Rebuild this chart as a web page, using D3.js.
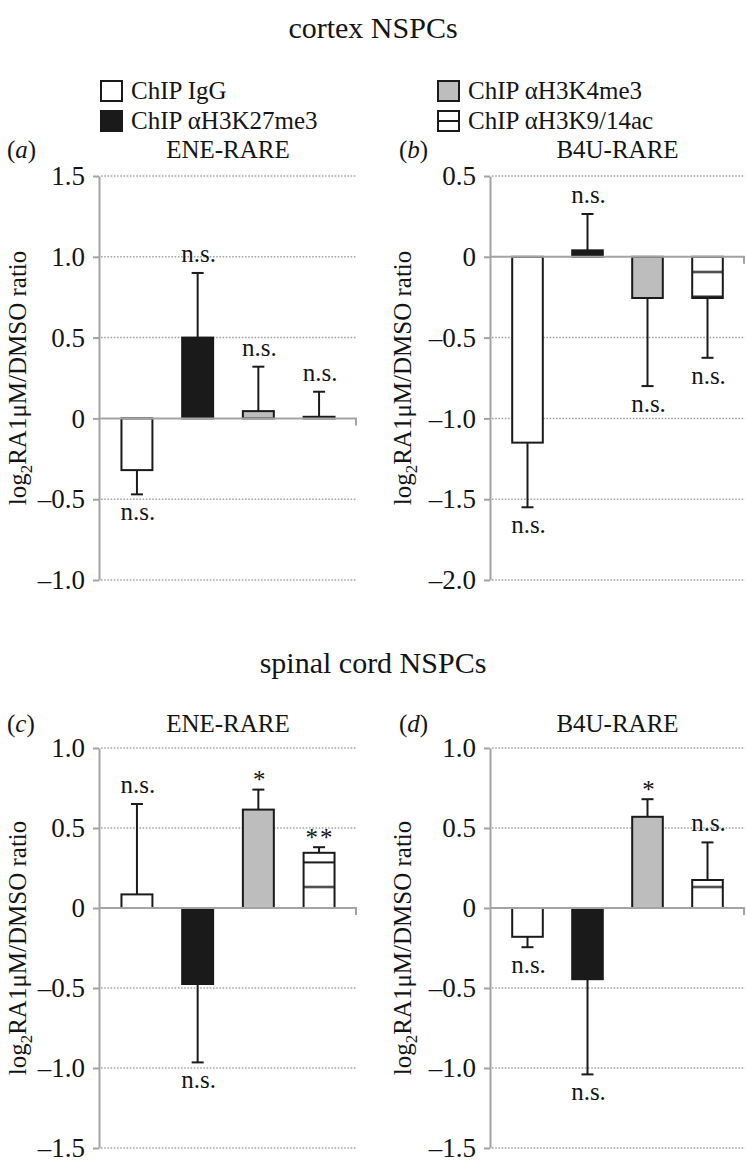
<!DOCTYPE html>
<html>
<head>
<meta charset="utf-8">
<script src="https://cdn.jsdelivr.net/npm/d3@7/dist/d3.min.js"></script>
<style>
  html, body { margin: 0; padding: 0; background: #ffffff; }
  svg { display: block; }
  text { font-family: "Liberation Serif", "Times New Roman", "DejaVu Serif", serif; fill: #141414; }
</style>
</head>
<body>
<script>
// ---------------- data ----------------
const categories = ["ChIP IgG", "ChIP \u03b1H3K27me3", "ChIP \u03b1H3K4me3", "ChIP \u03b1H3K9/14ac"];
const sectionTitles = ["cortex NSPCs", "spinal cord NSPCs"];
const panelLetters = ["a", "b", "c", "d"];
const panelTitles = ["ENE-RARE", "B4U-RARE", "ENE-RARE", "B4U-RARE"];

const valuesA = [-0.32, 0.50, 0.045, 0.01];
const errorsA = [0.15, 0.40, 0.275, 0.155];
const labelsA = ["n.s.", "n.s.", "n.s.", "n.s."];
const ticksA  = [-1.0, -0.5, 0, 0.5, 1.0, 1.5];

const valuesB = [-1.15, 0.04, -0.255, -0.255];
const errorsB = [0.40, 0.225, 0.545, 0.37];
const labelsB = ["n.s.", "n.s.", "n.s.", "n.s."];
const ticksB  = [-2.0, -1.5, -1.0, -0.5, 0, 0.5];

const valuesC = [0.085, -0.475, 0.615, 0.345];
const errorsC = [0.565, 0.49, 0.125, 0.035];
const labelsC = ["n.s.", "n.s.", "*", "**"];
const ticksC  = [-1.5, -1.0, -0.5, 0, 0.5, 1.0];

const valuesD = [-0.18, -0.445, 0.57, 0.175];
const errorsD = [0.065, 0.595, 0.11, 0.235];
const labelsD = ["n.s.", "n.s.", "*", "n.s."];
const ticksD  = [-1.5, -1.0, -0.5, 0, 0.5, 1.0];

const yLabelMain = "RA1\u03bcM/DMSO ratio";

// ---------------- layout / style ----------------
const W = 746, H = 1168;
const ink = "#1a1a1a", axisGray = "#a3a3a3";
const fills = ["#ffffff", "#1a1a1a", "#bdbdbd", "url(#hatch)"];
const panelBoxes = [
  { x0: 99,  x1: 357, y0: 176, y1: 580, titleY: 158, labelX: 26 },
  { x0: 490, x1: 745, y0: 176, y1: 580, titleY: 158, labelX: 411 },
  { x0: 99,  x1: 357, y0: 748, y1: 1148, titleY: 732, labelX: 26 },
  { x0: 490, x1: 745, y0: 748, y1: 1148, titleY: 732, labelX: 411 }
];
const panelData = [
  { values: valuesA, errors: errorsA, labels: labelsA, ticks: ticksA },
  { values: valuesB, errors: errorsB, labels: labelsB, ticks: ticksB },
  { values: valuesC, errors: errorsC, labels: labelsC, ticks: ticksC },
  { values: valuesD, errors: errorsD, labels: labelsD, ticks: ticksD }
];

const svg = d3.select("body").append("svg")
  .attr("width", W).attr("height", H)
  .attr("viewBox", `0 0 ${W} ${H}`);

// hatch pattern (horizontal lines, fixed in page space)
const defs = svg.append("defs");
const pat = defs.append("pattern")
  .attr("id", "hatch")
  .attr("patternUnits", "userSpaceOnUse")
  .attr("width", 20).attr("height", 24.6)
  .attr("y", 0);
pat.append("rect").attr("width", 20).attr("height", 24.6).attr("fill", "#ffffff");
pat.append("rect").attr("x", 0).attr("y", 0.4).attr("width", 20).attr("height", 2).attr("fill", ink);

// section titles
svg.append("text").attr("x", 373).attr("y", 38).attr("text-anchor", "middle")
  .attr("font-size", 30).text(sectionTitles[0]);
svg.append("text").attr("x", 373).attr("y", 673).attr("text-anchor", "middle")
  .attr("font-size", 30).text(sectionTitles[1]);

// legend
const legendPos = [
  { bx: 101, by: 81, tx: 131, ty: 99 },
  { bx: 101, by: 111, tx: 131, ty: 129 },
  { bx: 438, by: 81, tx: 468, ty: 99 },
  { bx: 438, by: 111, tx: 468, ty: 129 }
];
const leg = svg.append("g").attr("class", "legend");
categories.forEach((c, i) => {
  const p = legendPos[i];
  leg.append("rect").attr("x", p.bx).attr("y", p.by).attr("width", 21).attr("height", 20)
    .attr("fill", i === 3 ? "#ffffff" : fills[i]).attr("stroke", ink).attr("stroke-width", 2);
  if (i === 3) {
    leg.append("line").attr("x1", p.bx).attr("x2", p.bx + 21)
      .attr("y1", p.by + 10).attr("y2", p.by + 10).attr("stroke", ink).attr("stroke-width", 2);
  }
  leg.append("text").attr("x", p.tx).attr("y", p.ty).attr("font-size", 25).text(c);
});

const fmt = v => v === 0 ? "0" : (v < 0 ? "\u2013" : "") + Math.abs(v).toFixed(1);

panelData.forEach((pd, k) => {
  const b = panelBoxes[k];
  const g = svg.append("g");
  const y = d3.scaleLinear().domain(d3.extent(pd.ticks)).range([b.y1, b.y0]);
  const x = d3.scaleBand().domain(d3.range(categories.length))
    .range([b.x0, b.x1]).paddingInner(0.49).paddingOuter(0.37);

  // panel letter and title
  const lt = g.append("text").attr("x", b.x0 - 92 + (k % 2 ? 1 : 0)).attr("y", b.titleY).attr("font-size", 25);
  lt.append("tspan").text("(");
  lt.append("tspan").attr("font-style", "italic").text(panelLetters[k]);
  lt.append("tspan").text(")");
  g.append("text").attr("x", (b.x0 + b.x1) / 2).attr("y", b.titleY)
    .attr("text-anchor", "middle").attr("font-size", 25).text(panelTitles[k]);

  // gridlines (dotted), except zero
  g.append("g").selectAll("line").data(pd.ticks.filter(t => t !== 0)).join("line")
    .attr("x1", b.x0 + 2).attr("x2", b.x1)
    .attr("y1", d => y(d)).attr("y2", d => y(d))
    .attr("stroke", axisGray).attr("stroke-width", 1.5).attr("stroke-dasharray", "1.6,1.6");

  // y axis
  const ax = g.append("g").attr("transform", `translate(${b.x0},0)`)
    .call(d3.axisLeft(y).tickValues(pd.ticks).tickFormat(fmt).tickSize(6).tickSizeOuter(0).tickPadding(8));
  ax.select(".domain").attr("stroke", axisGray).attr("stroke-width", 2);
  ax.selectAll(".tick line").attr("stroke", axisGray).attr("stroke-width", 2);
  ax.selectAll(".tick text").attr("font-size", 27)
    .attr("font-family", "'Liberation Serif', 'Times New Roman', serif").attr("fill", "#141414");

  // y label
  const yl = g.append("text")
    .attr("transform", `translate(${b.labelX},${(b.y0 + b.y1) / 2}) rotate(-90)`)
    .attr("text-anchor", "middle").attr("font-size", 25);
  yl.append("tspan").text("log");
  yl.append("tspan").attr("font-size", 17).attr("dy", 6).text("2");
  yl.append("tspan").attr("dy", -6).text(yLabelMain);

  // bars
  const bars = pd.values.map((v, i) => ({ v, e: pd.errors[i], lab: pd.labels[i], i }));
  g.append("g").selectAll("rect").data(bars).join("rect")
    .attr("x", d => x(d.i)).attr("width", x.bandwidth())
    .attr("y", d => y(Math.max(0, d.v)))
    .attr("height", d => Math.abs(y(d.v) - y(0)))
    .attr("fill", d => fills[d.i]).attr("stroke", ink).attr("stroke-width", 2);

  // zero axis line with end tick
  g.append("line").attr("x1", b.x0).attr("x2", b.x1).attr("y1", y(0)).attr("y2", y(0))
    .attr("stroke", axisGray).attr("stroke-width", 2);
  g.append("line").attr("x1", b.x1 - 1).attr("x2", b.x1 - 1).attr("y1", y(0)).attr("y2", y(0) + 7)
    .attr("stroke", axisGray).attr("stroke-width", 2);

  // error bars
  const eg = g.append("g").attr("stroke", ink).attr("stroke-width", 2);
  bars.forEach(d => {
    const cx = x(d.i) + x.bandwidth() / 2;
    const s = d.v >= 0 ? 1 : -1;
    const end = d.v + s * d.e;
    eg.append("line").attr("x1", cx).attr("x2", cx).attr("y1", y(d.v)).attr("y2", y(end));
    eg.append("line").attr("x1", cx - 6).attr("x2", cx + 6).attr("y1", y(end)).attr("y2", y(end));
    const star = d.lab.indexOf("*") >= 0;
    g.append("text").attr("x", cx + (star ? 1 : 1)).attr("text-anchor", "middle")
      .attr("y", s > 0 ? y(end) - (star ? 1.5 : 11) : y(end) + 26)
      .attr("font-size", star ? 25 : 25)
      .attr("letter-spacing", d.lab === "**" ? 2 : 0)
      .text(d.lab);
  });
});
</script>
</body>
</html>
